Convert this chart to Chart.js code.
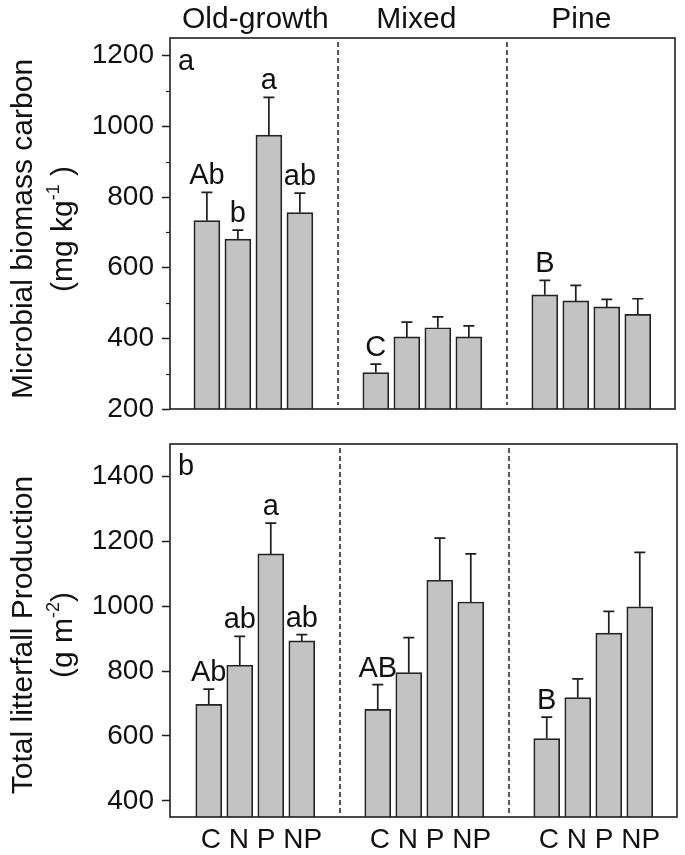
<!DOCTYPE html>
<html>
<head>
<meta charset="utf-8">
<script src="https://cdn.jsdelivr.net/npm/chart.js@4.4.1/dist/chart.umd.min.js"></script>
<style>
    html, body { margin: 0; padding: 0; background: #fff; }
    #wrap { position: relative; width: 685px; height: 855px; }
    #topBox { position: absolute; left: 0; top: 0; width: 685px; height: 420px; }
    #botBox { position: absolute; left: 0; top: 420px; width: 685px; height: 435px; }
</style>
</head>
<body>
<div id="wrap">
    <div id="topBox"><canvas id="mbcChart" width="685" height="420"></canvas></div>
    <div id="botBox"><canvas id="litterChart" width="685" height="435"></canvas></div>
</div>
<script>
"use strict";

const forests = ["Old-growth", "Mixed", "Pine"];
const treatments = ["C", "N", "P", "NP"];

// (a) microbial biomass carbon (mg kg-1): mean and error bar (upper SE)
const mbcOldGrowth = [733, 681, 975, 756];
const mbcMixed = [303, 404, 430, 404];
const mbcPine = [523, 506, 489, 468];
const mbcErrOldGrowth = [80, 25, 107, 55];
const mbcErrMixed = [24, 42, 31, 31];
const mbcErrPine = [41, 44, 21, 44];
const mbcLetters = [["Ab", "b", "a", "ab"], ["C", "", "", ""], ["B", "", "", ""]];

// (b) total litterfall production (g m-2)
const litOldGrowth = [697, 818, 1161, 893];
const litMixed = [682, 795, 1080, 1013];
const litPine = [592, 718, 917, 998];
const litErrOldGrowth = [47, 89, 95, 19];
const litErrMixed = [76, 108, 130, 148];
const litErrPine = [66, 58, 67, 168];
const litLetters = [["Ab", "ab", "a", "ab"], ["AB", "", "", ""], ["B", "", "", ""]];

const FONT = "'Liberation Sans', Arial, sans-serif";
const INK = "#1e1e1e";
const GROUP_STEP = 5.45;   // one bar slot = 1 unit on the x scale

function barX(g, i) {
    return g * GROUP_STEP + i;
}

function buildPoints(groups) {
    const pts = [];
    groups.forEach((vals, g) => vals.forEach((v, i) => pts.push({ x: barX(g, i), y: v })));
    return pts;
}

/** one rotated line of the y title; parts may carry a superscript */
function drawRotatedLine(ctx, baseX, centerY, parts, size) {
    const supSize = Math.round(size * 0.6);
    let total = 0;
    parts.forEach((p) => {
        ctx.font = `${p.sup ? supSize : size}px ${FONT}`;
        p.w = ctx.measureText(p.text).width;
        total += p.w;
    });
    ctx.save();
    ctx.translate(baseX, centerY);
    ctx.rotate(-Math.PI / 2);
    ctx.textAlign = "left";
    ctx.textBaseline = "alphabetic";
    let cx = -total / 2;
    parts.forEach((p) => {
        ctx.font = `${p.sup ? supSize : size}px ${FONT}`;
        ctx.fillText(p.text, cx, p.sup ? -size * 0.42 : 0);
        cx += p.w;
    });
    ctx.restore();
}

/** error bars, letters, frame, dashed separators, titles */
const panelDecorPlugin = {
    id: "panelDecor",
    beforeDatasetsDraw(chart) {
        const { ctx, chartArea: area, scales } = chart;
        ctx.save();
        ctx.strokeStyle = "#000";
        ctx.lineWidth = 1.3;
        ctx.setLineDash([5, 3]);
        for (let g = 1; g < forests.length; g++) {
            const xv = (barX(g - 1, 3) + barX(g, 0)) / 2;
            const px = Math.round(scales.x.getPixelForValue(xv));
            ctx.beginPath();
            ctx.moveTo(px, area.top + 4);
            ctx.lineTo(px, area.bottom - 4);
            ctx.stroke();
        }
        ctx.restore();
    },
    afterDatasetsDraw(chart, args, opts) {
        const { ctx, chartArea: area, scales } = chart;
        const ys = scales.y;
        const meta = chart.getDatasetMeta(0);

        ctx.save();
        ctx.strokeStyle = INK;
        ctx.fillStyle = "#111";
        ctx.lineWidth = 1.7;
        ctx.font = `${opts.letterSize}px ${FONT}`;
        ctx.textAlign = "center";
        ctx.textBaseline = "alphabetic";
        meta.data.forEach((bar, k) => {
            const g = Math.floor(k / treatments.length);
            const i = k % treatments.length;
            const mean = opts.means[g][i];
            const yTop = ys.getPixelForValue(mean + opts.errs[g][i]);
            const yBar = ys.getPixelForValue(mean);
            ctx.beginPath();
            ctx.moveTo(bar.x, yBar);
            ctx.lineTo(bar.x, yTop);
            ctx.moveTo(bar.x - 5.5, yTop);
            ctx.lineTo(bar.x + 5.5, yTop);
            ctx.stroke();
            const letter = opts.letters[g][i];
            if (letter) ctx.fillText(letter, bar.x, yTop - 8);
        });

        // frame
        ctx.lineWidth = 1.6;
        ctx.strokeRect(area.left, area.top, area.right - area.left, area.bottom - area.top);

        // minor y ticks
        ctx.lineWidth = 1.2;
        ys.ticks.forEach((t) => {
            if (t.value % 200 === 0 || t.value >= ys.max) return;
            const py = Math.round(ys.getPixelForValue(t.value)) + 0.5;
            ctx.beginPath();
            ctx.moveTo(area.left - 4, py);
            ctx.lineTo(area.left, py);
            ctx.stroke();
        });

        // panel letter
        ctx.textAlign = "left";
        ctx.font = `${opts.letterSize}px ${FONT}`;
        ctx.fillText(opts.panelLetter, area.left + 8, area.top + opts.panelLetterDy);

        // forest titles above the top panel
        if (opts.groupTitles) {
            ctx.textAlign = "center";
            ctx.font = `30px ${FONT}`;
            forests.forEach((name, g) => {
                const cx = scales.x.getPixelForValue(barX(g, 1.5)) + opts.titleNudge[g];
                ctx.fillText(name, cx, 28);
            });
        }

        // y title
        ctx.fillStyle = "#111";
        drawRotatedLine(ctx, 32, opts.titleCenterY, opts.titleLine1, 30);
        drawRotatedLine(ctx, 72, opts.titleCenterY, opts.titleLine2, 30);
        ctx.restore();
    }
};

function yScale(min, max) {
    return {
        type: "linear",
        min: min,
        max: max,
        afterFit(scale) {
            scale.width = 170;
            scale.paddingTop = 0;
            scale.paddingBottom = 0;
        },
        border: { display: false },
        grid: {
            drawOnChartArea: false,
            drawTicks: true,
            tickLength: 8,
            tickWidth: 1.5,
            tickColor: (c) => (c.tick && c.tick.value % 200 === 0 ? INK : "rgba(0,0,0,0)")
        },
        ticks: {
            stepSize: 100,
            includeBounds: false,
            padding: 8,
            color: "#111",
            font: { family: FONT, size: 28 },
            callback: (v) => (v % 200 === 0 ? String(v) : "")
        }
    };
}

function barDataset(groups) {
    return {
        data: buildPoints(groups),
        backgroundColor: "#c3c3c3",
        borderColor: "#222",
        borderWidth: 1.7,
        borderSkipped: "start",
        barThickness: 26
    };
}

// top panel (a)
new Chart(document.getElementById("mbcChart").getContext("2d"), {
    type: "bar",
    data: { datasets: [barDataset([mbcOldGrowth, mbcMixed, mbcPine])] },
    options: {
        responsive: false,
        animation: false,
        layout: { autoPadding: false, padding: { top: 38, right: 10, bottom: 11, left: 0 } },
        plugins: {
            legend: { display: false },
            tooltip: { enabled: false },
            panelDecor: {
                means: [mbcOldGrowth, mbcMixed, mbcPine],
                errs: [mbcErrOldGrowth, mbcErrMixed, mbcErrPine],
                letters: mbcLetters,
                letterSize: 29,
                panelLetter: "a",
                panelLetterDy: 32,
                groupTitles: true,
                titleNudge: [2, -6, -10],
                titleCenterY: 229,
                titleLine1: [{ text: "Microbial biomass carbon" }],
                titleLine2: [{ text: "(mg kg" }, { text: "-1", sup: true }, { text: " )" }]
            }
        },
        scales: {
            x: { type: "linear", display: false, offset: false, min: -1.19, max: 15.1 },
            y: yScale(200, 1250)
        }
    },
    plugins: [panelDecorPlugin]
});

// bottom panel (b)
new Chart(document.getElementById("litterChart").getContext("2d"), {
    type: "bar",
    data: { datasets: [barDataset([litOldGrowth, litMixed, litPine])] },
    options: {
        responsive: false,
        animation: false,
        layout: { autoPadding: false, padding: { top: 24, right: 8, bottom: 0, left: 0 } },
        plugins: {
            legend: { display: false },
            tooltip: { enabled: false },
            panelDecor: {
                means: [litOldGrowth, litMixed, litPine],
                errs: [litErrOldGrowth, litErrMixed, litErrPine],
                letters: litLetters,
                letterSize: 29,
                panelLetter: "b",
                panelLetterDy: 31,
                groupTitles: false,
                titleCenterY: 215,
                titleLine1: [{ text: "Total litterfall Production" }],
                titleLine2: [{ text: "(g m" }, { text: "-2", sup: true }, { text: ")" }]
            }
        },
        scales: {
            x: {
                type: "linear",
                offset: false,
                min: -1.25,
                max: 15.1,
                afterFit(scale) { scale.height = 38; },
                afterBuildTicks(scale) {
                    scale.ticks = forests.map((f, g) => ({ value: barX(g, 1.5) + 0.2 }));
                },
                border: { display: false },
                grid: { display: false, drawTicks: false },
                ticks: {
                    padding: 6,
                    maxRotation: 0,
                    autoSkip: false,
                    color: "#111",
                    font: { family: FONT, size: 28 },
                    callback: () => "C N P NP"
                }
            },
            y: yScale(350, 1500)
        }
    },
    plugins: [panelDecorPlugin]
});
</script>
</body>
</html>
